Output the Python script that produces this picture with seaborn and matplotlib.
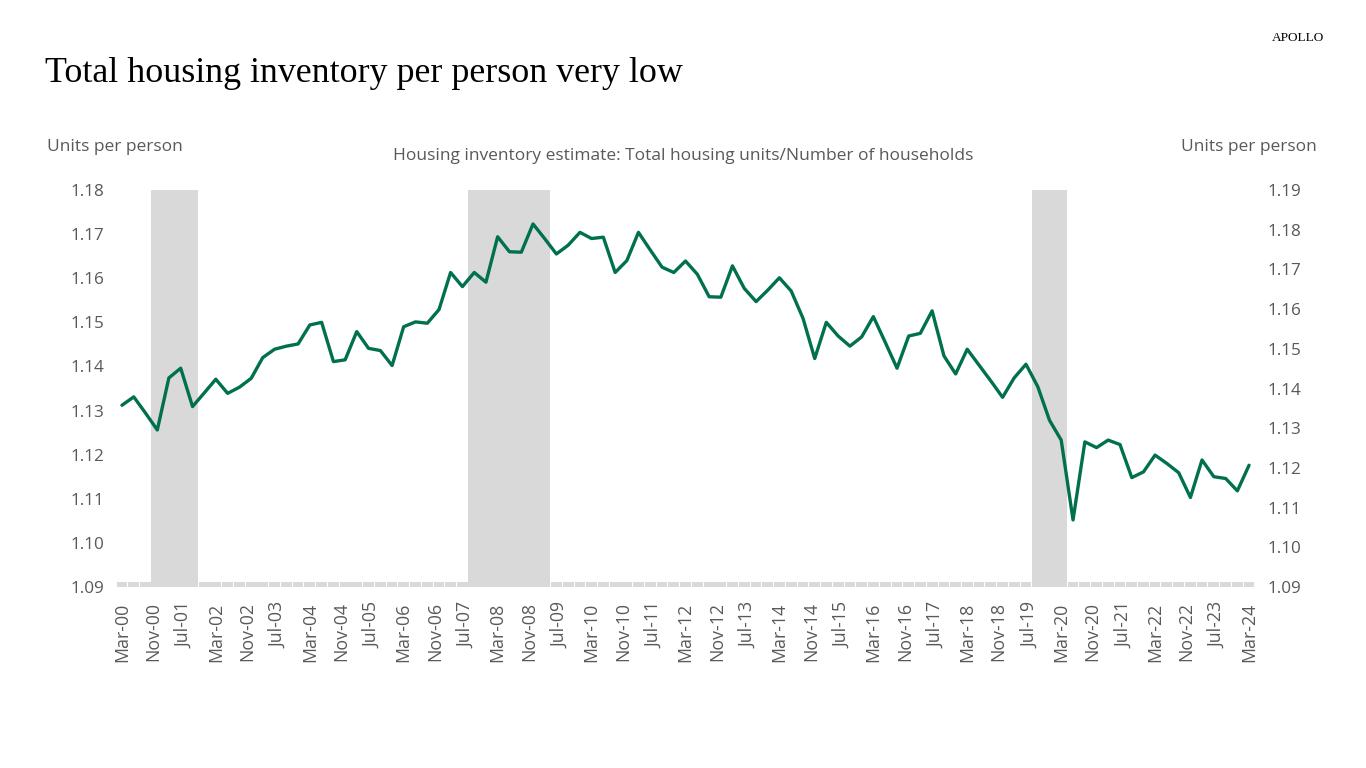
import matplotlib.pyplot as plt
import matplotlib.dates as mdates
import pandas as pd
import seaborn as sns

# quarterly observations, Mar-00 .. Mar-24
quarters = pd.date_range("2000-03-01", periods=97, freq="3MS")

units_per_household = [
    1.1312, 1.1331, 1.1294, 1.1256, 1.1374, 1.1396, 1.1309, 1.1340, 1.1371, 1.1339,
    1.1353, 1.1373, 1.1420, 1.1439, 1.1446, 1.1451, 1.1494, 1.1500, 1.1411, 1.1415,
    1.1479, 1.1441, 1.1436, 1.1402, 1.1490, 1.1501, 1.1498, 1.1529, 1.1613, 1.1581,
    1.1613, 1.1591, 1.1694, 1.1660, 1.1659, 1.1723, 1.1690, 1.1655, 1.1675, 1.1704,
    1.1690, 1.1693, 1.1613, 1.1640, 1.1704, 1.1664, 1.1625, 1.1613, 1.1639, 1.1609,
    1.1558, 1.1557, 1.1628, 1.1577, 1.1547, 1.1573, 1.1601, 1.1571, 1.1509, 1.1418,
    1.1500, 1.1469, 1.1446, 1.1467, 1.1513, 1.1455, 1.1396, 1.1469, 1.1475, 1.1526,
    1.1424, 1.1383, 1.1439, 1.1403, 1.1367, 1.1330, 1.1374, 1.1405, 1.1354, 1.1278,
    1.1233, 1.1052, 1.1229, 1.1216, 1.1233, 1.1223, 1.1148, 1.1161, 1.1199, 1.1180,
    1.1159, 1.1103, 1.1188, 1.1150, 1.1146, 1.1118, 1.1176,
]

# recession quarters (first and last quarter shaded)
recessions = [("2000-12-01", "2001-09-01"), ("2007-09-01", "2009-03-01"), ("2019-09-01", "2020-03-01")]

left_ticks = [1.09, 1.10, 1.11, 1.12, 1.13, 1.14, 1.15, 1.16, 1.17, 1.18]
right_ticks = [1.09, 1.10, 1.11, 1.12, 1.13, 1.14, 1.15, 1.16, 1.17, 1.18, 1.19]
x_ticks = pd.date_range("2000-03-01", "2024-03-01", freq="8MS")

df = pd.DataFrame({"date": quarters, "value": units_per_household})
df["recession"] = False
for start, end in recessions:
    df.loc[(df["date"] >= start) & (df["date"] <= end), "recession"] = True

GREEN = "#00704f"
GREY_BAR = "#d9d9d9"
TEXT = "#595959"

sns.set_style("white")
plt.rcParams["font.family"] = ["Open Sans", "DejaVu Sans"]

fig = plt.figure(figsize=(13.66, 7.68), dpi=100)
ax = fig.add_axes([115 / 1366, 181 / 768, 1141 / 1366, 397 / 768])

lo, hi = left_ticks[0], left_ticks[-1]
rec = df[df["recession"]]
calm = df[~df["recession"]]
ax.bar(rec["date"], hi - lo, bottom=lo, width=92, color=GREY_BAR, linewidth=0, zorder=1)
ax.bar(calm["date"], 0.00105, bottom=lo, width=84, color=GREY_BAR, linewidth=0, zorder=1)

sns.lineplot(data=df, x="date", y="value", color=GREEN, linewidth=2.4, ax=ax, zorder=3)

ax.set_ylim(lo, hi)
ax.set_yticks(left_ticks)
ax.set_yticklabels([f"{t:.2f}" for t in left_ticks])
ax.set_xlim(quarters[0] - pd.Timedelta(days=54), quarters[-1] + pd.Timedelta(days=54))
ax.set_xticks(x_ticks)
ax.xaxis.set_major_formatter(mdates.DateFormatter("%b-%y"))
ax.set_xlabel("")
ax.set_ylabel("")
ax.tick_params(axis="x", rotation=90, labelsize=12.8, colors=TEXT, length=0, pad=11)
ax.tick_params(axis="y", labelsize=12.3, colors=TEXT, length=0, pad=8)

ax2 = ax.twinx()
ax2.set_ylim(right_ticks[0], right_ticks[-1])
ax2.set_yticks(right_ticks)
ax2.set_yticklabels([f"{t:.2f}" for t in right_ticks])
ax2.tick_params(axis="y", labelsize=12.3, colors=TEXT, length=0, pad=8)

for a in (ax, ax2):
    for s in a.spines.values():
        s.set_visible(False)

fig.text(45 / 1366, 1 - 74 / 768, "Total housing inventory per person very low",
         family=["Liberation Serif", "DejaVu Serif"], fontsize=25.8, color="black", va="center", ha="left")
fig.text(1324 / 1366, 1 - 38 / 768, "APOLLO", family=["Liberation Serif", "DejaVu Serif"],
         fontsize=9.5, color="black", va="center", ha="right")
fig.text(47 / 1366, 1 - 147 / 768, "Units per person", fontsize=12.5, color=TEXT, va="center", ha="left")
fig.text(1317 / 1366, 1 - 147 / 768, "Units per person", fontsize=12.5, color=TEXT, va="center", ha="right")
fig.text(683 / 1366, 1 - 156 / 768, "Housing inventory estimate: Total housing units/Number of households",
         fontsize=12.5, color=TEXT, va="center", ha="center")

fig.savefig("out.png", dpi=100)
